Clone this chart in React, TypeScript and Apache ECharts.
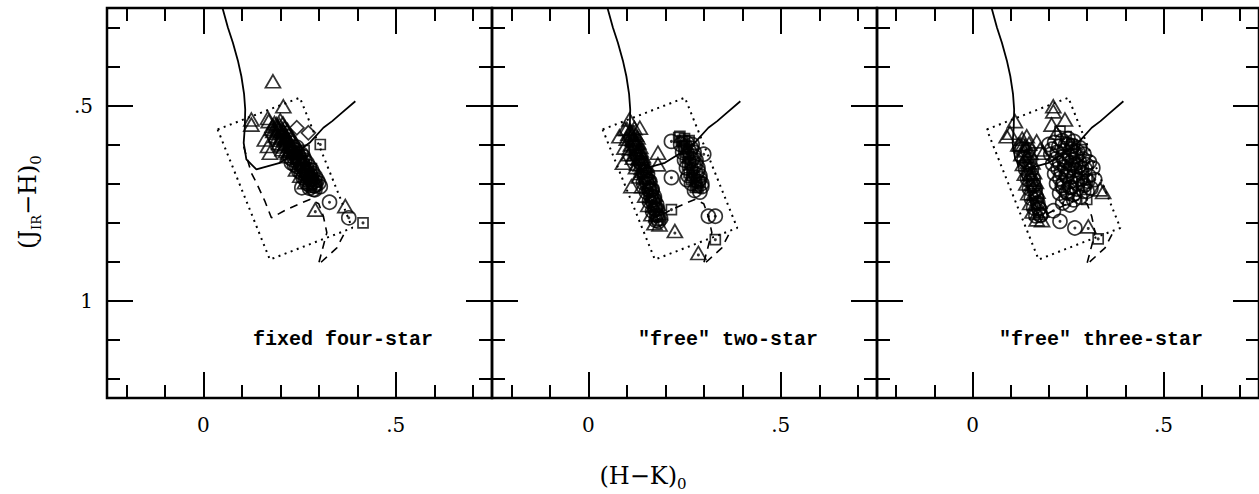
import React, { useEffect, useRef } from "react";
import * as echarts from "echarts";

type Pt = [number, number];

// Axis ranges and tick positions (colour indices)
const X_MIN = -0.25;
const X_MAX = 0.75;
const Y_MIN = 0.25;
const Y_MAX = 1.25;
const xMajorTicks = [0, 0.5];
const xMinorTicks = [-0.2, -0.1, 0.1, 0.2, 0.3, 0.4, 0.6, 0.7];
const yMajorTicks = [0.5, 1];
const yMinorTicks = [0.3, 0.4, 0.6, 0.7, 0.8, 0.9, 1.1, 1.2];

const panelTitles = ["fixed four-star", '"free" two-star', '"free" three-star'];

// Intrinsic colour locus (solid)
const intrinsicLocus: Pt[] = [
  [0.05, 0.25], [0.064, 0.3], [0.077, 0.339], [0.09, 0.385], [0.099, 0.425],
  [0.106, 0.47], [0.109, 0.51], [0.108, 0.555], [0.105, 0.596], [0.112, 0.638],
  [0.138, 0.664], [0.199, 0.647], [0.24, 0.622], [0.278, 0.594], [0.312, 0.557],
  [0.335, 0.54], [0.356, 0.522], [0.395, 0.489],
];

// Second locus (dashed)
const secondLocus: Pt[] = [
  [0.105, 0.605], [0.115, 0.64], [0.125, 0.673], [0.138, 0.698], [0.16, 0.745],
  [0.177, 0.788], [0.216, 0.767], [0.25, 0.752], [0.277, 0.741], [0.3, 0.752],
  [0.312, 0.784], [0.321, 0.826], [0.299, 0.908], [0.347, 0.865], [0.368, 0.825],
];

// Selection box (dotted)
const selectionBox: Pt[] = [
  [0.0374, 0.5615], [0.251, 0.48], [0.387, 0.814], [0.173, 0.895], [0.0374, 0.5615],
];

// ---- fixed four-star ----
const fourStarTriangles: Pt[] = [
  [0.181, 0.438], [0.125, 0.536], [0.125, 0.549], [0.208, 0.502], [0.168, 0.532],
  [0.16, 0.587], [0.168, 0.604], [0.173, 0.621], [0.369, 0.758],
  [0.17, 0.54], [0.185, 0.545], [0.2, 0.538], [0.192, 0.555], [0.178, 0.56],
  [0.195, 0.562], [0.212, 0.556], [0.205, 0.572], [0.188, 0.578], [0.203, 0.582],
  [0.222, 0.574], [0.214, 0.59], [0.197, 0.596], [0.214, 0.598], [0.232, 0.59],
  [0.206, 0.612], [0.224, 0.615], [0.218, 0.63], [0.241, 0.664], [0.252, 0.68],
  [0.264, 0.697],
  [0.18, 0.552], [0.198, 0.55], [0.207, 0.546], [0.19, 0.57], [0.208, 0.567],
  [0.219, 0.563], [0.2, 0.588], [0.218, 0.584], [0.229, 0.58], [0.21, 0.605],
  [0.228, 0.602], [0.24, 0.597], [0.22, 0.622], [0.238, 0.619], [0.25, 0.614],
  [0.19, 0.548], [0.196, 0.558], [0.202, 0.566], [0.207, 0.576], [0.212, 0.585],
  [0.218, 0.594], [0.223, 0.603], [0.229, 0.612], [0.182, 0.565], [0.193, 0.582],
  [0.204, 0.6], [0.215, 0.617], [0.205, 0.56], [0.215, 0.578], [0.226, 0.596],
];
const fourStarDotTriangles: Pt[] = [[0.291, 0.767]];
const fourStarCircles: Pt[] = [
  [0.256, 0.711], [0.286, 0.715], [0.328, 0.748], [0.378, 0.788],
  [0.226, 0.606], [0.243, 0.607], [0.236, 0.622], [0.235, 0.632], [0.254, 0.624],
  [0.247, 0.64], [0.229, 0.647], [0.246, 0.648], [0.264, 0.64], [0.258, 0.657],
  [0.257, 0.666], [0.275, 0.657], [0.268, 0.674], [0.268, 0.683], [0.285, 0.674],
  [0.279, 0.69], [0.279, 0.7], [0.296, 0.691], [0.289, 0.706], [0.276, 0.712],
  [0.29, 0.716], [0.304, 0.708],
  [0.232, 0.639], [0.249, 0.636], [0.26, 0.631], [0.243, 0.656], [0.26, 0.653],
  [0.27, 0.648], [0.254, 0.672], [0.27, 0.67], [0.281, 0.665], [0.265, 0.689],
  [0.281, 0.687], [0.291, 0.682], [0.277, 0.705], [0.292, 0.703], [0.3, 0.699],
  [0.234, 0.62], [0.24, 0.629], [0.245, 0.638], [0.251, 0.646], [0.256, 0.655],
  [0.262, 0.663], [0.267, 0.672], [0.272, 0.68], [0.278, 0.689], [0.283, 0.697],
  [0.288, 0.706], [0.237, 0.613], [0.248, 0.632], [0.258, 0.648], [0.27, 0.664],
  [0.28, 0.68], [0.29, 0.694], [0.226, 0.634], [0.237, 0.652], [0.248, 0.668],
  [0.259, 0.684], [0.27, 0.7],
];
const fourStarSquares: Pt[] = [[0.304, 0.6], [0.415, 0.801], [0.262, 0.615], [0.281, 0.662]];
const fourStarDiamonds: Pt[] = [[0.243, 0.557], [0.273, 0.57]];

// ---- "free" two-star ----
const twoStarTriangles: Pt[] = [
  [0.107, 0.536], [0.134, 0.557], [0.081, 0.579], [0.094, 0.608], [0.09, 0.647],
  [0.181, 0.621], [0.181, 0.651], [0.112, 0.707], [0.1, 0.56], [0.12, 0.59], [0.105, 0.625],
  [0.095, 0.56], [0.11, 0.565], [0.12, 0.558], [0.1, 0.585], [0.117, 0.588],
  [0.128, 0.582], [0.108, 0.61], [0.123, 0.612], [0.135, 0.606], [0.116, 0.634],
  [0.131, 0.636], [0.142, 0.63], [0.124, 0.658], [0.139, 0.66], [0.15, 0.655],
  [0.132, 0.682], [0.147, 0.685], [0.158, 0.679], [0.14, 0.707], [0.154, 0.709],
  [0.165, 0.703], [0.148, 0.731], [0.162, 0.733], [0.173, 0.728], [0.156, 0.755],
  [0.17, 0.757], [0.18, 0.752], [0.164, 0.779], [0.177, 0.781], [0.186, 0.776],
  [0.172, 0.802], [0.185, 0.805], [0.113, 0.575], [0.121, 0.598], [0.129, 0.622],
  [0.104, 0.573], [0.118, 0.57], [0.111, 0.6], [0.126, 0.596], [0.119, 0.625],
  [0.134, 0.62], [0.127, 0.649], [0.142, 0.645], [0.135, 0.673], [0.15, 0.669],
  [0.11, 0.57], [0.115, 0.586], [0.12, 0.603], [0.126, 0.619], [0.131, 0.635],
  [0.136, 0.651], [0.142, 0.667], [0.124, 0.575], [0.13, 0.595], [0.136, 0.615],
  [0.142, 0.635], [0.148, 0.655],
];
const twoStarDotTriangles: Pt[] = [[0.225, 0.822], [0.286, 0.878]];
const twoStarCircles: Pt[] = [
  [0.216, 0.592], [0.3, 0.625], [0.256, 0.69], [0.216, 0.685], [0.312, 0.784], [0.33, 0.784],
  [0.24, 0.6], [0.268, 0.61], [0.245, 0.62], [0.275, 0.63], [0.25, 0.64], [0.28, 0.65],
  [0.255, 0.66], [0.285, 0.668], [0.26, 0.68], [0.29, 0.688], [0.268, 0.7], [0.295, 0.708],
  [0.276, 0.718], [0.29, 0.722], [0.137, 0.646], [0.145, 0.67], [0.152, 0.695],
  [0.16, 0.719], [0.167, 0.743], [0.175, 0.767], [0.181, 0.791],
  [0.143, 0.698], [0.157, 0.693], [0.151, 0.722], [0.165, 0.717], [0.159, 0.746],
  [0.172, 0.742], [0.167, 0.771], [0.18, 0.766], [0.176, 0.795], [0.188, 0.79],
  [0.256, 0.596], [0.263, 0.618], [0.27, 0.638], [0.275, 0.656], [0.28, 0.676],
  [0.285, 0.695],
  [0.147, 0.684], [0.152, 0.7], [0.158, 0.716], [0.163, 0.732], [0.168, 0.748],
  [0.173, 0.765], [0.178, 0.781], [0.183, 0.797], [0.154, 0.675], [0.16, 0.695],
  [0.166, 0.715], [0.172, 0.735], [0.178, 0.755],
  [0.27, 0.6], [0.275, 0.62], [0.28, 0.64], [0.285, 0.66], [0.29, 0.68], [0.295, 0.7],
];
const twoStarSquares: Pt[] = [
  [0.238, 0.579], [0.291, 0.698], [0.216, 0.767], [0.33, 0.844],
  [0.235, 0.582], [0.25, 0.585], [0.262, 0.59], [0.255, 0.605], [0.26, 0.625],
  [0.265, 0.645], [0.27, 0.665], [0.275, 0.685], [0.282, 0.705],
  [0.242, 0.592], [0.248, 0.612], [0.252, 0.632], [0.258, 0.652], [0.262, 0.672],
  [0.268, 0.69], [0.278, 0.71],
  [0.245, 0.59], [0.25, 0.605], [0.255, 0.62], [0.26, 0.635], [0.265, 0.65],
  [0.27, 0.68], [0.28, 0.695], [0.285, 0.71],
];

// ---- "free" three-star ----
const threeStarTriangles: Pt[] = [
  [0.2115, 0.502], [0.2115, 0.515], [0.242, 0.536], [0.207, 0.549], [0.22, 0.57],
  [0.111, 0.54], [0.0895, 0.579], [0.098, 0.57], [0.142, 0.579], [0.168, 0.592],
  [0.177, 0.613], [0.185, 0.621], [0.334, 0.715], [0.342, 0.722], [0.12, 0.6], [0.13, 0.585],
  [0.125, 0.6], [0.138, 0.604], [0.148, 0.598], [0.128, 0.625], [0.142, 0.628],
  [0.152, 0.622], [0.132, 0.65], [0.146, 0.652], [0.157, 0.646], [0.137, 0.675],
  [0.15, 0.677], [0.161, 0.671], [0.141, 0.7], [0.155, 0.702], [0.166, 0.696],
  [0.146, 0.725], [0.16, 0.727], [0.17, 0.721], [0.151, 0.75], [0.165, 0.752],
  [0.175, 0.746], [0.157, 0.772], [0.17, 0.775], [0.18, 0.77], [0.168, 0.792], [0.182, 0.794],
  [0.133, 0.6], [0.137, 0.615], [0.141, 0.63], [0.145, 0.645], [0.148, 0.66],
  [0.152, 0.675], [0.156, 0.69],
];
const threeStarDotTriangles: Pt[] = [[0.303, 0.81]];
const threeStarCircles: Pt[] = [
  [0.229, 0.797], [0.268, 0.814],
  [0.2, 0.6], [0.215, 0.595], [0.235, 0.59], [0.25, 0.585], [0.265, 0.592],
  [0.205, 0.625], [0.222, 0.62], [0.24, 0.615], [0.258, 0.612], [0.275, 0.618], [0.292, 0.625],
  [0.21, 0.65], [0.228, 0.648], [0.246, 0.642], [0.262, 0.64], [0.28, 0.645], [0.298, 0.652],
  [0.315, 0.66], [0.215, 0.675], [0.232, 0.672], [0.25, 0.668], [0.268, 0.665], [0.286, 0.672],
  [0.304, 0.68], [0.32, 0.69], [0.22, 0.7], [0.238, 0.698], [0.256, 0.695], [0.274, 0.7],
  [0.292, 0.705], [0.31, 0.712], [0.228, 0.725], [0.246, 0.722], [0.264, 0.728],
  [0.282, 0.735], [0.236, 0.75], [0.255, 0.755], [0.212, 0.77],
  [0.208, 0.612], [0.226, 0.605], [0.244, 0.6], [0.262, 0.603], [0.28, 0.608],
  [0.218, 0.637], [0.236, 0.632], [0.254, 0.628], [0.271, 0.63], [0.289, 0.637],
  [0.306, 0.645], [0.224, 0.662], [0.241, 0.657], [0.259, 0.653], [0.277, 0.657],
  [0.295, 0.663], [0.229, 0.687], [0.247, 0.683], [0.265, 0.682], [0.283, 0.688],
  [0.301, 0.694], [0.237, 0.711], [0.255, 0.71], [0.273, 0.714], [0.291, 0.72],
  [0.245, 0.737], [0.265, 0.742],
  [0.13, 0.612], [0.145, 0.615], [0.135, 0.638], [0.15, 0.64], [0.139, 0.663],
  [0.154, 0.665], [0.144, 0.688], [0.159, 0.69], [0.149, 0.713], [0.164, 0.715],
  [0.154, 0.738], [0.168, 0.74], [0.16, 0.762], [0.174, 0.764], [0.166, 0.783], [0.178, 0.782],
  [0.16, 0.705], [0.163, 0.72], [0.167, 0.735], [0.171, 0.75], [0.174, 0.765], [0.178, 0.78],
  [0.25, 0.6], [0.265, 0.62], [0.24, 0.64], [0.27, 0.65], [0.255, 0.665], [0.285, 0.66],
  [0.245, 0.68], [0.275, 0.69], [0.26, 0.71], [0.29, 0.7], [0.235, 0.705], [0.3, 0.72],
  [0.25, 0.725],
];
const threeStarSquares: Pt[] = [
  [0.229, 0.566], [0.245, 0.58], [0.286, 0.613], [0.299, 0.741], [0.329, 0.842],
  [0.26, 0.6], [0.3, 0.69],
];

type Panel = {
  triangles: Pt[];
  dotTriangles: Pt[];
  circles: Pt[];
  squares: Pt[];
  diamonds: Pt[];
};

const panels: Panel[] = [
  { triangles: fourStarTriangles, dotTriangles: fourStarDotTriangles, circles: fourStarCircles, squares: fourStarSquares, diamonds: fourStarDiamonds },
  { triangles: twoStarTriangles, dotTriangles: twoStarDotTriangles, circles: twoStarCircles, squares: twoStarSquares, diamonds: [] },
  { triangles: threeStarTriangles, dotTriangles: threeStarDotTriangles, circles: threeStarCircles, squares: threeStarSquares, diamonds: [] },
];

// Layout
const PANEL_LEFT = [107, 492, 877];
const PANEL_WIDTH = 385;
const PANEL_TOP = 8;
const PANEL_HEIGHT = 390;

const SERIF = "'DejaVu Serif', 'Liberation Serif', serif";
const MONO = "'Liberation Mono', 'DejaVu Sans Mono', monospace";

const fmt = (v: number) => (v === 0 ? "0" : String(v).replace(/^0(?=\.)/, ""));

function tickStyle(len: number, values: number[]) {
  return {
    show: true,
    inside: true,
    length: len,
    customValues: values,
    lineStyle: { color: "#000", width: 2 },
  };
}

const hiddenLine = { show: false, onZero: false };

function buildXAxes(p: number) {
  const base = {
    type: "value",
    gridIndex: p,
    min: X_MIN,
    max: X_MAX,
    axisLine: hiddenLine,
    splitLine: { show: false },
    axisLabel: { show: false },
  };
  return [
    {
      ...base,
      position: "bottom",
      axisTick: tickStyle(26, xMajorTicks),
      axisLabel: {
        show: true,
        customValues: xMajorTicks,
        formatter: fmt,
        fontFamily: SERIF,
        fontSize: 20,
        color: "#000",
        margin: 17,
      },
    },
    { ...base, position: "bottom", axisTick: tickStyle(13, xMinorTicks) },
    { ...base, position: "top", axisTick: tickStyle(26, xMajorTicks) },
    { ...base, position: "top", axisTick: tickStyle(13, xMinorTicks) },
  ];
}

function buildYAxes(p: number) {
  const base = {
    type: "value",
    gridIndex: p,
    min: Y_MIN,
    max: Y_MAX,
    inverse: true,
    axisLine: hiddenLine,
    splitLine: { show: false },
    axisLabel: { show: false },
  };
  return [
    {
      ...base,
      position: "left",
      axisTick: tickStyle(26, yMajorTicks),
      axisLabel: {
        show: p === 0,
        customValues: yMajorTicks,
        formatter: fmt,
        fontFamily: SERIF,
        fontSize: 20,
        color: "#000",
        margin: 14,
      },
    },
    { ...base, position: "left", axisTick: tickStyle(13, yMinorTicks) },
    { ...base, position: "right", axisTick: tickStyle(26, yMajorTicks) },
    { ...base, position: "right", axisTick: tickStyle(13, yMinorTicks) },
  ];
}

const openMarker = {
  color: "rgba(0,0,0,0)",
  borderColor: "#000",
  borderWidth: 1.7,
};

function buildSeries(p: number) {
  const panel = panels[p];
  const ax = { xAxisIndex: p * 4, yAxisIndex: p * 4 };
  const dots = [...panel.circles, ...panel.squares];
  return [
    {
      ...ax,
      type: "line",
      data: intrinsicLocus,
      symbol: "none",
      lineStyle: { color: "#000", width: 1.8 },
      z: 2,
    },
    {
      ...ax,
      type: "line",
      data: secondLocus,
      symbol: "none",
      lineStyle: { color: "#000", width: 1.6, type: [8, 6] },
      z: 2,
    },
    {
      ...ax,
      type: "line",
      data: selectionBox,
      symbol: "none",
      lineStyle: { color: "#000", width: 2, type: [2, 4.5] },
      z: 2,
    },
    {
      ...ax,
      type: "scatter",
      data: panel.triangles,
      symbol: "triangle",
      symbolSize: [15, 13],
      itemStyle: openMarker,
      z: 3,
    },
    {
      ...ax,
      type: "scatter",
      data: panel.dotTriangles,
      symbol: "triangle",
      symbolSize: [15, 13],
      itemStyle: openMarker,
      z: 3,
    },
    {
      ...ax,
      type: "scatter",
      data: panel.circles,
      symbol: "circle",
      symbolSize: 14,
      itemStyle: openMarker,
      z: 3,
    },
    {
      ...ax,
      type: "scatter",
      data: panel.squares,
      symbol: "rect",
      symbolSize: 10,
      itemStyle: openMarker,
      z: 3,
    },
    {
      ...ax,
      type: "scatter",
      data: panel.diamonds,
      symbol: "diamond",
      symbolSize: [14, 14],
      itemStyle: openMarker,
      z: 3,
    },
    {
      ...ax,
      type: "scatter",
      data: dots,
      symbol: "circle",
      symbolSize: 3,
      itemStyle: { color: "#000" },
      z: 4,
    },
    {
      ...ax,
      type: "scatter",
      data: panel.dotTriangles,
      symbol: "circle",
      symbolSize: 3,
      symbolOffset: [0, 2],
      itemStyle: { color: "#000" },
      z: 4,
    },
  ];
}

const titleRich = {
  m: { fontFamily: SERIF, fontSize: 24, color: "#000", lineHeight: 30 },
  s: { fontFamily: SERIF, fontSize: 15, color: "#000", lineHeight: 16, verticalAlign: "bottom" },
  c: { fontFamily: SERIF, fontSize: 13, color: "#000", lineHeight: 16, verticalAlign: "bottom" },
};

export default function App() {
  const ref = useRef<HTMLDivElement>(null);

  useEffect(() => {
    if (!ref.current) return;
    const chart = echarts.init(ref.current, undefined, { renderer: "svg" });

    const grids = PANEL_LEFT.map((left) => ({
      left,
      top: PANEL_TOP,
      width: PANEL_WIDTH,
      height: PANEL_HEIGHT,
      show: true,
      borderColor: "#000",
      borderWidth: 2.5,
      backgroundColor: "rgba(0,0,0,0)",
      z: 5,
    }));

    const xAxis = [0, 1, 2].flatMap(buildXAxes);
    const yAxis = [0, 1, 2].flatMap(buildYAxes);
    const series = [0, 1, 2].flatMap(buildSeries);

    const graphic = [
      ...panelTitles.map((t, i) => ({
        type: "text",
        x: PANEL_LEFT[i] + PANEL_WIDTH - 59,
        y: 339,
        style: {
          text: t,
          fontFamily: MONO,
          fontSize: 20,
          fontWeight: "bold",
          fill: "#000",
          align: "right",
          verticalAlign: "middle",
        },
      })),
      {
        type: "text",
        x: 643,
        y: 476,
        style: {
          text: "{m|(H\u2212K)}{s|0}",
          rich: titleRich,
          align: "center",
          verticalAlign: "middle",
        },
      },
      {
        type: "text",
        x: 28,
        y: 202,
        rotation: Math.PI / 2,
        style: {
          text: "{m|(J}{c|IR}{m|\u2212H)}{s|0}",
          rich: titleRich,
          align: "center",
          verticalAlign: "middle",
        },
      },
    ];

    chart.setOption({
      animation: false,
      backgroundColor: "#fff",
      grid: grids,
      xAxis,
      yAxis,
      series,
      graphic,
    });

    return () => chart.dispose();
  }, []);

  return (
    <div
      ref={ref}
      style={{ position: "absolute", left: 0, top: 0, width: 1259, height: 494 }}
    />
  );
}
